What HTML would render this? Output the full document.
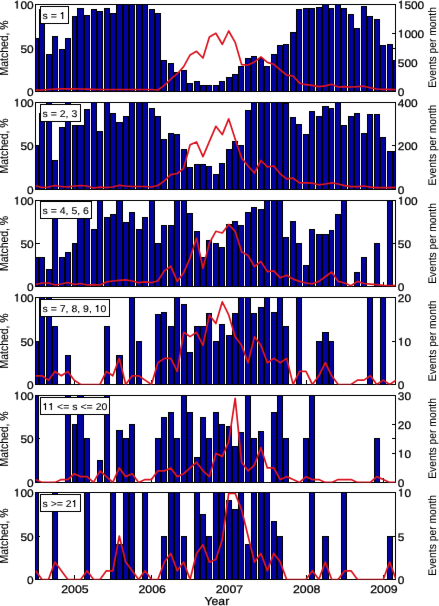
<!DOCTYPE html>
<html><head><meta charset="utf-8"><style>
html,body{margin:0;padding:0;background:#fff;width:439px;height:606px;overflow:hidden}
svg{display:block}
#w{width:439px;height:606px}
text{font-family:"Liberation Sans",sans-serif;stroke:#000;stroke-width:0.25px;text-rendering:geometricPrecision}
svg{will-change:transform}
</style></head><body><div id="w">
<svg width="439" height="606" viewBox="0 0 439 606">
<rect width="439" height="606" fill="#fff"/>
<defs>
<filter id="bl" x="0" y="0" width="439" height="606" filterUnits="userSpaceOnUse" color-interpolation-filters="sRGB"><feConvolveMatrix order="3" kernelMatrix="0.0016 0.0371 0.0016 0.0371 0.8450 0.0371 0.0016 0.0371 0.0016" edgeMode="duplicate"/></filter>
<clipPath id="c0"><rect x="35" y="4" width="361" height="88"/></clipPath>
<clipPath id="c1"><rect x="35" y="102" width="361" height="88"/></clipPath>
<clipPath id="c2"><rect x="35" y="200" width="361" height="87"/></clipPath>
<clipPath id="c3"><rect x="35" y="297" width="361" height="88"/></clipPath>
<clipPath id="c4"><rect x="35" y="395" width="361" height="88"/></clipPath>
<clipPath id="c5"><rect x="35" y="492" width="361" height="88"/></clipPath>
</defs>
<g filter="url(#bl)"><rect width="439" height="606" fill="#fff"/>
<g fill="#000" shape-rendering="crispEdges"><rect x="36" y="48" width="4" height="1"/><rect x="392" y="48" width="3" height="1"/><rect x="392" y="33" width="3" height="1"/><rect x="392" y="62" width="3" height="1"/><rect x="74" y="87" width="1" height="4"/><rect x="151" y="87" width="1" height="4"/><rect x="229" y="87" width="1" height="4"/><rect x="306" y="87" width="1" height="4"/><rect x="383" y="87" width="1" height="4"/></g>
<g clip-path="url(#c0)" shape-rendering="crispEdges"><rect x="35" y="38" width="4" height="53" fill="#000"/><rect x="36" y="39" width="2" height="52" fill="#0303a0"/><rect x="39" y="9" width="6" height="82" fill="#000"/><rect x="40" y="10" width="4" height="81" fill="#0303a0"/><rect x="46" y="54" width="6" height="37" fill="#000"/><rect x="47" y="55" width="4" height="36" fill="#0303a0"/><rect x="52" y="36" width="6" height="55" fill="#000"/><rect x="53" y="37" width="4" height="54" fill="#0303a0"/><rect x="59" y="49" width="6" height="42" fill="#000"/><rect x="60" y="50" width="4" height="41" fill="#0303a0"/><rect x="65" y="38" width="6" height="53" fill="#000"/><rect x="66" y="39" width="4" height="52" fill="#0303a0"/><rect x="72" y="16" width="5" height="75" fill="#000"/><rect x="73" y="17" width="3" height="74" fill="#0303a0"/><rect x="77" y="8" width="7" height="83" fill="#000"/><rect x="78" y="9" width="5" height="82" fill="#0303a0"/><rect x="84" y="15" width="6" height="76" fill="#000"/><rect x="85" y="16" width="4" height="75" fill="#0303a0"/><rect x="91" y="9" width="6" height="82" fill="#000"/><rect x="92" y="10" width="4" height="81" fill="#0303a0"/><rect x="97" y="11" width="6" height="80" fill="#000"/><rect x="98" y="12" width="4" height="79" fill="#0303a0"/><rect x="104" y="8" width="6" height="83" fill="#000"/><rect x="105" y="9" width="4" height="82" fill="#0303a0"/><rect x="110" y="13" width="6" height="78" fill="#000"/><rect x="111" y="14" width="4" height="77" fill="#0303a0"/><rect x="116" y="4" width="7" height="87" fill="#000"/><rect x="117" y="5" width="5" height="86" fill="#0303a0"/><rect x="123" y="4" width="6" height="87" fill="#000"/><rect x="124" y="5" width="4" height="86" fill="#0303a0"/><rect x="129" y="4" width="6" height="87" fill="#000"/><rect x="130" y="5" width="4" height="86" fill="#0303a0"/><rect x="136" y="4" width="6" height="87" fill="#000"/><rect x="137" y="5" width="4" height="86" fill="#0303a0"/><rect x="142" y="4" width="6" height="87" fill="#000"/><rect x="143" y="5" width="4" height="86" fill="#0303a0"/><rect x="149" y="9" width="6" height="82" fill="#000"/><rect x="150" y="10" width="4" height="81" fill="#0303a0"/><rect x="155" y="13" width="6" height="78" fill="#000"/><rect x="156" y="14" width="4" height="77" fill="#0303a0"/><rect x="161" y="60" width="6" height="31" fill="#000"/><rect x="162" y="61" width="4" height="30" fill="#0303a0"/><rect x="168" y="63" width="6" height="28" fill="#000"/><rect x="169" y="64" width="4" height="27" fill="#0303a0"/><rect x="174" y="72" width="6" height="19" fill="#000"/><rect x="175" y="73" width="4" height="18" fill="#0303a0"/><rect x="181" y="70" width="6" height="21" fill="#000"/><rect x="182" y="71" width="4" height="20" fill="#0303a0"/><rect x="187" y="83" width="6" height="8" fill="#000"/><rect x="188" y="84" width="4" height="7" fill="#0303a0"/><rect x="194" y="81" width="6" height="10" fill="#000"/><rect x="195" y="82" width="4" height="9" fill="#0303a0"/><rect x="200" y="85" width="6" height="6" fill="#000"/><rect x="201" y="86" width="4" height="5" fill="#0303a0"/><rect x="206" y="85" width="6" height="6" fill="#000"/><rect x="207" y="86" width="4" height="5" fill="#0303a0"/><rect x="213" y="85" width="6" height="6" fill="#000"/><rect x="214" y="86" width="4" height="5" fill="#0303a0"/><rect x="219" y="81" width="6" height="10" fill="#000"/><rect x="220" y="82" width="4" height="9" fill="#0303a0"/><rect x="226" y="77" width="6" height="14" fill="#000"/><rect x="227" y="78" width="4" height="13" fill="#0303a0"/><rect x="232" y="74" width="6" height="17" fill="#000"/><rect x="233" y="75" width="4" height="16" fill="#0303a0"/><rect x="238" y="66" width="6" height="25" fill="#000"/><rect x="239" y="67" width="4" height="24" fill="#0303a0"/><rect x="245" y="58" width="6" height="33" fill="#000"/><rect x="246" y="59" width="4" height="32" fill="#0303a0"/><rect x="251" y="56" width="6" height="35" fill="#000"/><rect x="252" y="57" width="4" height="34" fill="#0303a0"/><rect x="258" y="58" width="6" height="33" fill="#000"/><rect x="259" y="59" width="4" height="32" fill="#0303a0"/><rect x="264" y="66" width="6" height="25" fill="#000"/><rect x="265" y="67" width="4" height="24" fill="#0303a0"/><rect x="271" y="54" width="6" height="37" fill="#000"/><rect x="272" y="55" width="4" height="36" fill="#0303a0"/><rect x="277" y="45" width="6" height="46" fill="#000"/><rect x="278" y="46" width="4" height="45" fill="#0303a0"/><rect x="283" y="44" width="6" height="47" fill="#000"/><rect x="284" y="45" width="4" height="46" fill="#0303a0"/><rect x="290" y="32" width="6" height="59" fill="#000"/><rect x="291" y="33" width="4" height="58" fill="#0303a0"/><rect x="296" y="9" width="6" height="82" fill="#000"/><rect x="297" y="10" width="4" height="81" fill="#0303a0"/><rect x="303" y="8" width="6" height="83" fill="#000"/><rect x="304" y="9" width="4" height="82" fill="#0303a0"/><rect x="309" y="8" width="6" height="83" fill="#000"/><rect x="310" y="9" width="4" height="82" fill="#0303a0"/><rect x="316" y="7" width="6" height="84" fill="#000"/><rect x="317" y="8" width="4" height="83" fill="#0303a0"/><rect x="322" y="4" width="7" height="87" fill="#000"/><rect x="323" y="5" width="5" height="86" fill="#0303a0"/><rect x="329" y="8" width="5" height="83" fill="#000"/><rect x="330" y="9" width="3" height="82" fill="#0303a0"/><rect x="335" y="4" width="6" height="87" fill="#000"/><rect x="336" y="5" width="4" height="86" fill="#0303a0"/><rect x="341" y="8" width="6" height="83" fill="#000"/><rect x="342" y="9" width="4" height="82" fill="#0303a0"/><rect x="348" y="14" width="6" height="77" fill="#000"/><rect x="349" y="15" width="4" height="76" fill="#0303a0"/><rect x="354" y="28" width="6" height="63" fill="#000"/><rect x="355" y="29" width="4" height="62" fill="#0303a0"/><rect x="361" y="6" width="6" height="85" fill="#000"/><rect x="362" y="7" width="4" height="84" fill="#0303a0"/><rect x="367" y="16" width="6" height="75" fill="#000"/><rect x="368" y="17" width="4" height="74" fill="#0303a0"/><rect x="374" y="19" width="6" height="72" fill="#000"/><rect x="375" y="20" width="4" height="71" fill="#0303a0"/><rect x="380" y="45" width="6" height="46" fill="#000"/><rect x="381" y="46" width="4" height="45" fill="#0303a0"/><rect x="387" y="44" width="6" height="47" fill="#000"/><rect x="388" y="45" width="4" height="46" fill="#0303a0"/><rect x="393" y="60" width="3" height="31" fill="#000"/><rect x="394" y="61" width="1" height="30" fill="#0303a0"/></g>
<g fill="#000" shape-rendering="crispEdges"><rect x="35" y="4" width="361" height="1"/><rect x="35" y="91" width="361" height="1"/><rect x="35" y="4" width="1" height="88"/><rect x="395" y="4" width="1" height="88"/></g>
<g clip-path="url(#c0)"><polyline points="35.60,90.20 42.04,90.00 48.48,89.50 54.91,89.00 61.35,88.80 67.79,88.80 74.22,88.90 80.66,89.00 87.10,89.20 93.54,89.30 99.97,89.50 106.41,89.50 112.85,89.50 119.29,89.50 125.72,89.50 132.16,89.50 138.60,89.50 145.04,89.50 151.47,89.50 157.91,90.00 164.35,85.40 170.79,79.20 177.22,73.70 183.66,66.60 190.10,54.90 196.54,51.30 202.97,58.00 209.41,37.10 215.85,33.30 222.29,44.30 228.72,31.00 235.16,42.30 241.60,64.60 248.04,65.10 254.47,61.90 260.91,56.90 267.35,62.40 273.79,64.30 280.23,69.80 286.66,75.20 293.10,76.00 299.54,83.10 305.98,84.70 312.41,85.40 318.85,86.70 325.29,85.90 331.73,84.30 338.16,87.00 344.60,86.70 351.04,87.00 357.48,86.70 363.91,86.20 370.35,87.80 376.79,89.00 383.23,89.40 389.66,89.40 396.10,89.70" fill="none" stroke="#dc1622" stroke-width="1.7" stroke-linejoin="round"/></g>
<g fill="#000" fill-opacity="0.45" shape-rendering="crispEdges"><rect x="35" y="4" width="361" height="1"/><rect x="35" y="91" width="361" height="1"/><rect x="35" y="4" width="1" height="88"/><rect x="395" y="4" width="1" height="88"/></g>
<rect x="40.5" y="6.5" width="28" height="17" fill="#fff" stroke="#000" stroke-width="1"/>
<text transform="translate(42.500,19.000) scale(1.0,0.93)" font-size="10.5" style="stroke-width:0.12px">s = &#x2007;</text><path transform="translate(59.720,19.000) scale(0.01050,-0.00977)" d="M 332 0 L 332 709 L 264 709 Q 232 610 100 588 L 100 522 L 238 522 L 238 0 Z" stroke="#000" stroke-width="0.12" vector-effect="non-scaling-stroke"/>
<text transform="translate(13.784,8.500) scale(1.08,1.0)" font-size="11" style="stroke-width:0.25px">&#x2007;00</text><path transform="translate(13.784,8.500) scale(0.01188,-0.01100)" d="M 332 0 L 332 709 L 264 709 Q 232 610 100 588 L 100 522 L 238 522 L 238 0 Z" stroke="#000" stroke-width="0.25" vector-effect="non-scaling-stroke"/>
<text transform="translate(20.389,52.500) scale(1.08,1.0)" font-size="11" style="stroke-width:0.25px">50</text>
<text transform="translate(26.995,95.500) scale(1.08,1.0)" font-size="11" style="stroke-width:0.25px">0</text>
<text transform="translate(397.800,8.500) scale(1.08,1.0)" font-size="11" style="stroke-width:0.25px">&#x2007;500</text><path transform="translate(397.800,8.500) scale(0.01188,-0.01100)" d="M 332 0 L 332 709 L 264 709 Q 232 610 100 588 L 100 522 L 238 522 L 238 0 Z" stroke="#000" stroke-width="0.25" vector-effect="non-scaling-stroke"/>
<text transform="translate(397.800,37.500) scale(1.08,1.0)" font-size="11" style="stroke-width:0.25px">&#x2007;000</text><path transform="translate(397.800,37.500) scale(0.01188,-0.01100)" d="M 332 0 L 332 709 L 264 709 Q 232 610 100 588 L 100 522 L 238 522 L 238 0 Z" stroke="#000" stroke-width="0.25" vector-effect="non-scaling-stroke"/>
<text transform="translate(397.800,66.500) scale(1.08,1.0)" font-size="11" style="stroke-width:0.25px">500</text>
<text transform="translate(397.800,95.500) scale(1.08,1.0)" font-size="11" style="stroke-width:0.25px">0</text>
<text transform="translate(7.9,47.9) rotate(-90) scale(1,1.15)" font-size="10.45" text-anchor="middle" style="stroke-width:0.1px">Matched, %</text>
<text transform="translate(435.9,47.5) rotate(-90) scale(1,1.07)" font-size="10.3" text-anchor="middle" style="stroke-width:0.1px">Events per month</text>
<g fill="#000" shape-rendering="crispEdges"><rect x="36" y="145" width="4" height="1"/><rect x="392" y="145" width="3" height="1"/><rect x="392" y="145" width="3" height="1"/><rect x="74" y="185" width="1" height="4"/><rect x="151" y="185" width="1" height="4"/><rect x="229" y="185" width="1" height="4"/><rect x="306" y="185" width="1" height="4"/><rect x="383" y="185" width="1" height="4"/></g>
<g clip-path="url(#c1)" shape-rendering="crispEdges"><rect x="35" y="145" width="4" height="44" fill="#000"/><rect x="36" y="146" width="2" height="43" fill="#0303a0"/><rect x="39" y="113" width="6" height="76" fill="#000"/><rect x="40" y="114" width="4" height="75" fill="#0303a0"/><rect x="46" y="102" width="6" height="87" fill="#000"/><rect x="47" y="103" width="4" height="86" fill="#0303a0"/><rect x="52" y="160" width="6" height="29" fill="#000"/><rect x="53" y="161" width="4" height="28" fill="#0303a0"/><rect x="59" y="127" width="6" height="62" fill="#000"/><rect x="60" y="128" width="4" height="61" fill="#0303a0"/><rect x="65" y="102" width="6" height="87" fill="#000"/><rect x="66" y="103" width="4" height="86" fill="#0303a0"/><rect x="72" y="125" width="5" height="64" fill="#000"/><rect x="73" y="126" width="3" height="63" fill="#0303a0"/><rect x="77" y="125" width="7" height="64" fill="#000"/><rect x="78" y="126" width="5" height="63" fill="#0303a0"/><rect x="84" y="109" width="6" height="80" fill="#000"/><rect x="85" y="110" width="4" height="79" fill="#0303a0"/><rect x="91" y="102" width="6" height="87" fill="#000"/><rect x="92" y="103" width="4" height="86" fill="#0303a0"/><rect x="97" y="131" width="6" height="58" fill="#000"/><rect x="98" y="132" width="4" height="57" fill="#0303a0"/><rect x="104" y="102" width="6" height="87" fill="#000"/><rect x="105" y="103" width="4" height="86" fill="#0303a0"/><rect x="110" y="113" width="6" height="76" fill="#000"/><rect x="111" y="114" width="4" height="75" fill="#0303a0"/><rect x="116" y="122" width="7" height="67" fill="#000"/><rect x="117" y="123" width="5" height="66" fill="#0303a0"/><rect x="123" y="116" width="6" height="73" fill="#000"/><rect x="124" y="117" width="4" height="72" fill="#0303a0"/><rect x="129" y="102" width="6" height="87" fill="#000"/><rect x="130" y="103" width="4" height="86" fill="#0303a0"/><rect x="136" y="102" width="6" height="87" fill="#000"/><rect x="137" y="103" width="4" height="86" fill="#0303a0"/><rect x="142" y="102" width="6" height="87" fill="#000"/><rect x="143" y="103" width="4" height="86" fill="#0303a0"/><rect x="149" y="108" width="6" height="81" fill="#000"/><rect x="150" y="109" width="4" height="80" fill="#0303a0"/><rect x="155" y="116" width="6" height="73" fill="#000"/><rect x="156" y="117" width="4" height="72" fill="#0303a0"/><rect x="161" y="139" width="6" height="50" fill="#000"/><rect x="162" y="140" width="4" height="49" fill="#0303a0"/><rect x="168" y="133" width="6" height="56" fill="#000"/><rect x="169" y="134" width="4" height="55" fill="#0303a0"/><rect x="174" y="134" width="6" height="55" fill="#000"/><rect x="175" y="135" width="4" height="54" fill="#0303a0"/><rect x="181" y="149" width="6" height="40" fill="#000"/><rect x="182" y="150" width="4" height="39" fill="#0303a0"/><rect x="187" y="167" width="6" height="22" fill="#000"/><rect x="188" y="168" width="4" height="21" fill="#0303a0"/><rect x="194" y="164" width="6" height="25" fill="#000"/><rect x="195" y="165" width="4" height="24" fill="#0303a0"/><rect x="200" y="164" width="6" height="25" fill="#000"/><rect x="201" y="165" width="4" height="24" fill="#0303a0"/><rect x="206" y="166" width="6" height="23" fill="#000"/><rect x="207" y="167" width="4" height="22" fill="#0303a0"/><rect x="213" y="174" width="6" height="15" fill="#000"/><rect x="214" y="175" width="4" height="14" fill="#0303a0"/><rect x="219" y="163" width="6" height="26" fill="#000"/><rect x="220" y="164" width="4" height="25" fill="#0303a0"/><rect x="226" y="149" width="6" height="40" fill="#000"/><rect x="227" y="150" width="4" height="39" fill="#0303a0"/><rect x="232" y="141" width="6" height="48" fill="#000"/><rect x="233" y="142" width="4" height="47" fill="#0303a0"/><rect x="238" y="145" width="6" height="44" fill="#000"/><rect x="239" y="146" width="4" height="43" fill="#0303a0"/><rect x="245" y="110" width="6" height="79" fill="#000"/><rect x="246" y="111" width="4" height="78" fill="#0303a0"/><rect x="251" y="102" width="6" height="87" fill="#000"/><rect x="252" y="103" width="4" height="86" fill="#0303a0"/><rect x="258" y="102" width="6" height="87" fill="#000"/><rect x="259" y="103" width="4" height="86" fill="#0303a0"/><rect x="264" y="102" width="6" height="87" fill="#000"/><rect x="265" y="103" width="4" height="86" fill="#0303a0"/><rect x="271" y="102" width="6" height="87" fill="#000"/><rect x="272" y="103" width="4" height="86" fill="#0303a0"/><rect x="277" y="102" width="6" height="87" fill="#000"/><rect x="278" y="103" width="4" height="86" fill="#0303a0"/><rect x="283" y="103" width="6" height="86" fill="#000"/><rect x="284" y="104" width="4" height="85" fill="#0303a0"/><rect x="290" y="117" width="6" height="72" fill="#000"/><rect x="291" y="118" width="4" height="71" fill="#0303a0"/><rect x="296" y="124" width="6" height="65" fill="#000"/><rect x="297" y="125" width="4" height="64" fill="#0303a0"/><rect x="303" y="134" width="6" height="55" fill="#000"/><rect x="304" y="135" width="4" height="54" fill="#0303a0"/><rect x="309" y="111" width="6" height="78" fill="#000"/><rect x="310" y="112" width="4" height="77" fill="#0303a0"/><rect x="316" y="116" width="6" height="73" fill="#000"/><rect x="317" y="117" width="4" height="72" fill="#0303a0"/><rect x="322" y="106" width="7" height="83" fill="#000"/><rect x="323" y="107" width="5" height="82" fill="#0303a0"/><rect x="329" y="108" width="5" height="81" fill="#000"/><rect x="330" y="109" width="3" height="80" fill="#0303a0"/><rect x="335" y="102" width="6" height="87" fill="#000"/><rect x="336" y="103" width="4" height="86" fill="#0303a0"/><rect x="341" y="125" width="6" height="64" fill="#000"/><rect x="342" y="126" width="4" height="63" fill="#0303a0"/><rect x="348" y="116" width="6" height="73" fill="#000"/><rect x="349" y="117" width="4" height="72" fill="#0303a0"/><rect x="354" y="113" width="6" height="76" fill="#000"/><rect x="355" y="114" width="4" height="75" fill="#0303a0"/><rect x="361" y="133" width="6" height="56" fill="#000"/><rect x="362" y="134" width="4" height="55" fill="#0303a0"/><rect x="367" y="114" width="6" height="75" fill="#000"/><rect x="368" y="115" width="4" height="74" fill="#0303a0"/><rect x="374" y="114" width="6" height="75" fill="#000"/><rect x="375" y="115" width="4" height="74" fill="#0303a0"/><rect x="380" y="137" width="6" height="52" fill="#000"/><rect x="381" y="138" width="4" height="51" fill="#0303a0"/><rect x="387" y="151" width="6" height="38" fill="#000"/><rect x="388" y="152" width="4" height="37" fill="#0303a0"/><rect x="393" y="151" width="3" height="38" fill="#000"/><rect x="394" y="152" width="1" height="37" fill="#0303a0"/></g>
<g fill="#000" shape-rendering="crispEdges"><rect x="35" y="102" width="361" height="1"/><rect x="35" y="189" width="361" height="1"/><rect x="35" y="102" width="1" height="88"/><rect x="395" y="102" width="1" height="88"/></g>
<g clip-path="url(#c1)"><polyline points="35.60,185.80 42.04,187.50 48.48,187.00 54.91,185.50 61.35,186.50 67.79,187.00 74.22,186.00 80.66,185.50 87.10,186.00 93.54,188.00 99.97,187.20 106.41,187.50 112.85,187.00 119.29,185.30 125.72,186.00 132.16,186.50 138.60,186.50 145.04,186.50 151.47,187.00 157.91,185.50 164.35,180.90 170.79,174.60 177.22,173.50 183.66,168.30 190.10,144.80 196.54,142.00 202.97,156.60 209.41,141.40 215.85,126.30 222.29,134.60 228.72,118.90 235.16,139.00 241.60,158.10 248.04,166.00 254.47,173.00 260.91,160.50 267.35,166.80 273.79,166.00 280.23,173.80 286.66,178.80 293.10,178.20 299.54,182.90 305.98,182.90 312.41,183.20 318.85,184.80 325.29,184.00 331.73,182.80 338.16,184.00 344.60,185.60 351.04,186.70 357.48,186.70 363.91,186.00 370.35,187.10 376.79,187.60 383.23,187.60 389.66,187.60 396.10,187.30" fill="none" stroke="#dc1622" stroke-width="1.7" stroke-linejoin="round"/></g>
<g fill="#000" fill-opacity="0.45" shape-rendering="crispEdges"><rect x="35" y="102" width="361" height="1"/><rect x="35" y="189" width="361" height="1"/><rect x="35" y="102" width="1" height="88"/><rect x="395" y="102" width="1" height="88"/></g>
<rect x="40.5" y="104.5" width="40" height="17" fill="#fff" stroke="#000" stroke-width="1"/>
<text transform="translate(42.500,117.000) scale(1.0,0.93)" font-size="10.5" style="stroke-width:0.12px">s = 2, 3</text>
<text transform="translate(13.784,106.500) scale(1.08,1.0)" font-size="11" style="stroke-width:0.25px">&#x2007;00</text><path transform="translate(13.784,106.500) scale(0.01188,-0.01100)" d="M 332 0 L 332 709 L 264 709 Q 232 610 100 588 L 100 522 L 238 522 L 238 0 Z" stroke="#000" stroke-width="0.25" vector-effect="non-scaling-stroke"/>
<text transform="translate(20.389,149.500) scale(1.08,1.0)" font-size="11" style="stroke-width:0.25px">50</text>
<text transform="translate(26.995,193.500) scale(1.08,1.0)" font-size="11" style="stroke-width:0.25px">0</text>
<text transform="translate(397.800,106.500) scale(1.08,1.0)" font-size="11" style="stroke-width:0.25px">400</text>
<text transform="translate(397.800,149.500) scale(1.08,1.0)" font-size="11" style="stroke-width:0.25px">200</text>
<text transform="translate(397.800,193.500) scale(1.08,1.0)" font-size="11" style="stroke-width:0.25px">0</text>
<text transform="translate(7.9,145.9) rotate(-90) scale(1,1.15)" font-size="10.45" text-anchor="middle" style="stroke-width:0.1px">Matched, %</text>
<text transform="translate(435.9,145.1) rotate(-90) scale(1,1.07)" font-size="10.3" text-anchor="middle" style="stroke-width:0.1px">Events per month</text>
<g fill="#000" shape-rendering="crispEdges"><rect x="36" y="243" width="4" height="1"/><rect x="392" y="243" width="3" height="1"/><rect x="392" y="243" width="3" height="1"/><rect x="74" y="282" width="1" height="4"/><rect x="151" y="282" width="1" height="4"/><rect x="229" y="282" width="1" height="4"/><rect x="306" y="282" width="1" height="4"/><rect x="383" y="282" width="1" height="4"/></g>
<g clip-path="url(#c2)" shape-rendering="crispEdges"><rect x="35" y="257" width="4" height="29" fill="#000"/><rect x="36" y="258" width="2" height="28" fill="#0303a0"/><rect x="39" y="257" width="6" height="29" fill="#000"/><rect x="40" y="258" width="4" height="28" fill="#0303a0"/><rect x="46" y="269" width="6" height="17" fill="#000"/><rect x="47" y="270" width="4" height="16" fill="#0303a0"/><rect x="52" y="200" width="6" height="86" fill="#000"/><rect x="53" y="201" width="4" height="85" fill="#0303a0"/><rect x="59" y="257" width="6" height="29" fill="#000"/><rect x="60" y="258" width="4" height="28" fill="#0303a0"/><rect x="65" y="252" width="6" height="34" fill="#000"/><rect x="66" y="253" width="4" height="33" fill="#0303a0"/><rect x="72" y="243" width="5" height="43" fill="#000"/><rect x="73" y="244" width="3" height="42" fill="#0303a0"/><rect x="77" y="200" width="7" height="86" fill="#000"/><rect x="78" y="201" width="5" height="85" fill="#0303a0"/><rect x="84" y="200" width="6" height="86" fill="#000"/><rect x="85" y="201" width="4" height="85" fill="#0303a0"/><rect x="91" y="229" width="6" height="57" fill="#000"/><rect x="92" y="230" width="4" height="56" fill="#0303a0"/><rect x="97" y="200" width="6" height="86" fill="#000"/><rect x="98" y="201" width="4" height="85" fill="#0303a0"/><rect x="104" y="217" width="6" height="69" fill="#000"/><rect x="105" y="218" width="4" height="68" fill="#0303a0"/><rect x="110" y="214" width="6" height="72" fill="#000"/><rect x="111" y="215" width="4" height="71" fill="#0303a0"/><rect x="116" y="200" width="7" height="86" fill="#000"/><rect x="117" y="201" width="5" height="85" fill="#0303a0"/><rect x="123" y="222" width="6" height="64" fill="#000"/><rect x="124" y="223" width="4" height="63" fill="#0303a0"/><rect x="129" y="212" width="6" height="74" fill="#000"/><rect x="130" y="213" width="4" height="73" fill="#0303a0"/><rect x="136" y="229" width="6" height="57" fill="#000"/><rect x="137" y="230" width="4" height="56" fill="#0303a0"/><rect x="142" y="217" width="6" height="69" fill="#000"/><rect x="143" y="218" width="4" height="68" fill="#0303a0"/><rect x="149" y="200" width="6" height="86" fill="#000"/><rect x="150" y="201" width="4" height="85" fill="#0303a0"/><rect x="155" y="243" width="6" height="43" fill="#000"/><rect x="156" y="244" width="4" height="42" fill="#0303a0"/><rect x="161" y="225" width="6" height="61" fill="#000"/><rect x="162" y="226" width="4" height="60" fill="#0303a0"/><rect x="168" y="225" width="6" height="61" fill="#000"/><rect x="169" y="226" width="4" height="60" fill="#0303a0"/><rect x="174" y="200" width="6" height="86" fill="#000"/><rect x="175" y="201" width="4" height="85" fill="#0303a0"/><rect x="181" y="200" width="6" height="86" fill="#000"/><rect x="182" y="201" width="4" height="85" fill="#0303a0"/><rect x="187" y="213" width="6" height="73" fill="#000"/><rect x="188" y="214" width="4" height="72" fill="#0303a0"/><rect x="194" y="231" width="6" height="55" fill="#000"/><rect x="195" y="232" width="4" height="54" fill="#0303a0"/><rect x="200" y="257" width="6" height="29" fill="#000"/><rect x="201" y="258" width="4" height="28" fill="#0303a0"/><rect x="206" y="240" width="6" height="46" fill="#000"/><rect x="207" y="241" width="4" height="45" fill="#0303a0"/><rect x="213" y="243" width="6" height="43" fill="#000"/><rect x="214" y="244" width="4" height="42" fill="#0303a0"/><rect x="219" y="247" width="6" height="39" fill="#000"/><rect x="220" y="248" width="4" height="38" fill="#0303a0"/><rect x="226" y="224" width="6" height="62" fill="#000"/><rect x="227" y="225" width="4" height="61" fill="#0303a0"/><rect x="232" y="221" width="6" height="65" fill="#000"/><rect x="233" y="222" width="4" height="64" fill="#0303a0"/><rect x="238" y="225" width="6" height="61" fill="#000"/><rect x="239" y="226" width="4" height="60" fill="#0303a0"/><rect x="245" y="212" width="6" height="74" fill="#000"/><rect x="246" y="213" width="4" height="73" fill="#0303a0"/><rect x="251" y="207" width="6" height="79" fill="#000"/><rect x="252" y="208" width="4" height="78" fill="#0303a0"/><rect x="258" y="209" width="6" height="77" fill="#000"/><rect x="259" y="210" width="4" height="76" fill="#0303a0"/><rect x="264" y="200" width="6" height="86" fill="#000"/><rect x="265" y="201" width="4" height="85" fill="#0303a0"/><rect x="271" y="200" width="6" height="86" fill="#000"/><rect x="272" y="201" width="4" height="85" fill="#0303a0"/><rect x="277" y="200" width="6" height="86" fill="#000"/><rect x="278" y="201" width="4" height="85" fill="#0303a0"/><rect x="283" y="237" width="6" height="49" fill="#000"/><rect x="284" y="238" width="4" height="48" fill="#0303a0"/><rect x="290" y="221" width="6" height="65" fill="#000"/><rect x="291" y="222" width="4" height="64" fill="#0303a0"/><rect x="296" y="243" width="6" height="43" fill="#000"/><rect x="297" y="244" width="4" height="42" fill="#0303a0"/><rect x="303" y="265" width="6" height="21" fill="#000"/><rect x="304" y="266" width="4" height="20" fill="#0303a0"/><rect x="309" y="229" width="6" height="57" fill="#000"/><rect x="310" y="230" width="4" height="56" fill="#0303a0"/><rect x="316" y="234" width="6" height="52" fill="#000"/><rect x="317" y="235" width="4" height="51" fill="#0303a0"/><rect x="322" y="234" width="7" height="52" fill="#000"/><rect x="323" y="235" width="5" height="51" fill="#0303a0"/><rect x="329" y="230" width="5" height="56" fill="#000"/><rect x="330" y="231" width="3" height="55" fill="#0303a0"/><rect x="335" y="214" width="6" height="72" fill="#000"/><rect x="336" y="215" width="4" height="71" fill="#0303a0"/><rect x="341" y="200" width="6" height="86" fill="#000"/><rect x="342" y="201" width="4" height="85" fill="#0303a0"/><rect x="354" y="272" width="6" height="14" fill="#000"/><rect x="355" y="273" width="4" height="13" fill="#0303a0"/><rect x="361" y="257" width="6" height="29" fill="#000"/><rect x="362" y="258" width="4" height="28" fill="#0303a0"/><rect x="374" y="243" width="6" height="43" fill="#000"/><rect x="375" y="244" width="4" height="42" fill="#0303a0"/><rect x="387" y="200" width="6" height="86" fill="#000"/><rect x="388" y="201" width="4" height="85" fill="#0303a0"/></g>
<g fill="#000" shape-rendering="crispEdges"><rect x="35" y="200" width="361" height="1"/><rect x="35" y="286" width="361" height="1"/><rect x="35" y="200" width="1" height="87"/><rect x="395" y="200" width="1" height="87"/></g>
<g clip-path="url(#c2)"><polyline points="35.60,284.50 42.04,283.00 48.48,283.00 54.91,285.00 61.35,284.00 67.79,282.50 74.22,284.50 80.66,283.50 87.10,285.00 93.54,284.60 99.97,285.00 106.41,281.90 112.85,281.00 119.29,280.30 125.72,279.90 132.16,281.00 138.60,282.70 145.04,281.90 151.47,282.70 157.91,280.70 164.35,270.90 170.79,266.20 177.22,281.40 183.66,272.80 190.10,257.90 196.54,238.00 202.97,268.40 209.41,243.00 215.85,231.30 222.29,233.00 228.72,224.50 235.16,231.30 241.60,251.70 248.04,255.60 254.47,266.50 260.91,261.50 267.35,271.60 273.79,270.90 280.23,277.80 286.66,275.20 293.10,279.10 299.54,281.40 305.98,283.00 312.41,283.80 318.85,281.40 325.29,276.70 331.73,272.00 338.16,281.40 344.60,283.00 351.04,285.70 357.48,281.40 363.91,283.50 370.35,284.10 376.79,284.60 383.23,285.40 389.66,285.70 396.10,285.70" fill="none" stroke="#dc1622" stroke-width="1.7" stroke-linejoin="round"/></g>
<g fill="#000" fill-opacity="0.45" shape-rendering="crispEdges"><rect x="35" y="200" width="361" height="1"/><rect x="35" y="286" width="361" height="1"/><rect x="35" y="200" width="1" height="87"/><rect x="395" y="200" width="1" height="87"/></g>
<rect x="40.5" y="201.5" width="51" height="17" fill="#fff" stroke="#000" stroke-width="1"/>
<text transform="translate(42.500,214.000) scale(1.0,0.93)" font-size="10.5" style="stroke-width:0.12px">s = 4, 5, 6</text>
<text transform="translate(13.784,204.500) scale(1.08,1.0)" font-size="11" style="stroke-width:0.25px">&#x2007;00</text><path transform="translate(13.784,204.500) scale(0.01188,-0.01100)" d="M 332 0 L 332 709 L 264 709 Q 232 610 100 588 L 100 522 L 238 522 L 238 0 Z" stroke="#000" stroke-width="0.25" vector-effect="non-scaling-stroke"/>
<text transform="translate(20.389,247.500) scale(1.08,1.0)" font-size="11" style="stroke-width:0.25px">50</text>
<text transform="translate(26.995,290.500) scale(1.08,1.0)" font-size="11" style="stroke-width:0.25px">0</text>
<text transform="translate(397.800,204.500) scale(1.08,1.0)" font-size="11" style="stroke-width:0.25px">&#x2007;00</text><path transform="translate(397.800,204.500) scale(0.01188,-0.01100)" d="M 332 0 L 332 709 L 264 709 Q 232 610 100 588 L 100 522 L 238 522 L 238 0 Z" stroke="#000" stroke-width="0.25" vector-effect="non-scaling-stroke"/>
<text transform="translate(397.800,247.500) scale(1.08,1.0)" font-size="11" style="stroke-width:0.25px">50</text>
<text transform="translate(397.800,290.500) scale(1.08,1.0)" font-size="11" style="stroke-width:0.25px">0</text>
<text transform="translate(7.9,243.4) rotate(-90) scale(1,1.15)" font-size="10.45" text-anchor="middle" style="stroke-width:0.1px">Matched, %</text>
<text transform="translate(435.9,243.5) rotate(-90) scale(1,1.07)" font-size="10.3" text-anchor="middle" style="stroke-width:0.1px">Events per month</text>
<g fill="#000" shape-rendering="crispEdges"><rect x="36" y="341" width="4" height="1"/><rect x="392" y="341" width="3" height="1"/><rect x="392" y="341" width="3" height="1"/><rect x="74" y="380" width="1" height="4"/><rect x="151" y="380" width="1" height="4"/><rect x="229" y="380" width="1" height="4"/><rect x="306" y="380" width="1" height="4"/><rect x="383" y="380" width="1" height="4"/></g>
<g clip-path="url(#c3)" shape-rendering="crispEdges"><rect x="35" y="341" width="4" height="43" fill="#000"/><rect x="36" y="342" width="2" height="42" fill="#0303a0"/><rect x="39" y="297" width="6" height="87" fill="#000"/><rect x="40" y="298" width="4" height="86" fill="#0303a0"/><rect x="46" y="297" width="6" height="87" fill="#000"/><rect x="47" y="298" width="4" height="86" fill="#0303a0"/><rect x="52" y="326" width="6" height="58" fill="#000"/><rect x="53" y="327" width="4" height="57" fill="#0303a0"/><rect x="65" y="355" width="6" height="29" fill="#000"/><rect x="66" y="356" width="4" height="28" fill="#0303a0"/><rect x="104" y="326" width="6" height="58" fill="#000"/><rect x="105" y="327" width="4" height="57" fill="#0303a0"/><rect x="116" y="355" width="7" height="29" fill="#000"/><rect x="117" y="356" width="5" height="28" fill="#0303a0"/><rect x="129" y="297" width="6" height="87" fill="#000"/><rect x="130" y="298" width="4" height="86" fill="#0303a0"/><rect x="136" y="341" width="6" height="43" fill="#000"/><rect x="137" y="342" width="4" height="42" fill="#0303a0"/><rect x="155" y="314" width="6" height="70" fill="#000"/><rect x="156" y="315" width="4" height="69" fill="#0303a0"/><rect x="161" y="312" width="6" height="72" fill="#000"/><rect x="162" y="313" width="4" height="71" fill="#0303a0"/><rect x="168" y="326" width="6" height="58" fill="#000"/><rect x="169" y="327" width="4" height="57" fill="#0303a0"/><rect x="174" y="297" width="6" height="87" fill="#000"/><rect x="175" y="298" width="4" height="86" fill="#0303a0"/><rect x="181" y="304" width="6" height="80" fill="#000"/><rect x="182" y="305" width="4" height="79" fill="#0303a0"/><rect x="187" y="352" width="6" height="32" fill="#000"/><rect x="188" y="353" width="4" height="31" fill="#0303a0"/><rect x="194" y="326" width="6" height="58" fill="#000"/><rect x="195" y="327" width="4" height="57" fill="#0303a0"/><rect x="200" y="326" width="6" height="58" fill="#000"/><rect x="201" y="327" width="4" height="57" fill="#0303a0"/><rect x="206" y="313" width="6" height="71" fill="#000"/><rect x="207" y="314" width="4" height="70" fill="#0303a0"/><rect x="213" y="341" width="6" height="43" fill="#000"/><rect x="214" y="342" width="4" height="42" fill="#0303a0"/><rect x="219" y="324" width="6" height="60" fill="#000"/><rect x="220" y="325" width="4" height="59" fill="#0303a0"/><rect x="226" y="335" width="6" height="49" fill="#000"/><rect x="227" y="336" width="4" height="48" fill="#0303a0"/><rect x="232" y="313" width="6" height="71" fill="#000"/><rect x="233" y="314" width="4" height="70" fill="#0303a0"/><rect x="238" y="297" width="6" height="87" fill="#000"/><rect x="239" y="298" width="4" height="86" fill="#0303a0"/><rect x="245" y="297" width="6" height="87" fill="#000"/><rect x="246" y="298" width="4" height="86" fill="#0303a0"/><rect x="251" y="313" width="6" height="71" fill="#000"/><rect x="252" y="314" width="4" height="70" fill="#0303a0"/><rect x="258" y="307" width="6" height="77" fill="#000"/><rect x="259" y="308" width="4" height="76" fill="#0303a0"/><rect x="264" y="297" width="6" height="87" fill="#000"/><rect x="265" y="298" width="4" height="86" fill="#0303a0"/><rect x="271" y="312" width="6" height="72" fill="#000"/><rect x="272" y="313" width="4" height="71" fill="#0303a0"/><rect x="277" y="297" width="6" height="87" fill="#000"/><rect x="278" y="298" width="4" height="86" fill="#0303a0"/><rect x="283" y="326" width="6" height="58" fill="#000"/><rect x="284" y="327" width="4" height="57" fill="#0303a0"/><rect x="296" y="297" width="6" height="87" fill="#000"/><rect x="297" y="298" width="4" height="86" fill="#0303a0"/><rect x="316" y="341" width="6" height="43" fill="#000"/><rect x="317" y="342" width="4" height="42" fill="#0303a0"/><rect x="322" y="332" width="7" height="52" fill="#000"/><rect x="323" y="333" width="5" height="51" fill="#0303a0"/><rect x="329" y="341" width="5" height="43" fill="#000"/><rect x="330" y="342" width="3" height="42" fill="#0303a0"/><rect x="367" y="297" width="6" height="87" fill="#000"/><rect x="368" y="298" width="4" height="86" fill="#0303a0"/><rect x="380" y="297" width="6" height="87" fill="#000"/><rect x="381" y="298" width="4" height="86" fill="#0303a0"/></g>
<g fill="#000" shape-rendering="crispEdges"><rect x="35" y="297" width="361" height="1"/><rect x="35" y="384" width="361" height="1"/><rect x="35" y="297" width="1" height="88"/><rect x="395" y="297" width="1" height="88"/></g>
<g clip-path="url(#c3)"><polyline points="35.60,375.80 42.04,375.80 48.48,380.15 54.91,371.45 61.35,375.80 67.79,371.45 74.22,380.15 80.66,384.50 87.10,384.50 93.54,384.50 99.97,384.50 106.41,371.45 112.85,375.80 119.29,358.40 125.72,384.50 132.16,375.80 138.60,375.80 145.04,380.15 151.47,384.50 157.91,362.75 164.35,358.40 170.79,358.40 177.22,371.45 183.66,332.30 190.10,336.65 196.54,332.30 202.97,345.35 209.41,314.90 215.85,323.60 222.29,301.85 228.72,314.90 235.16,336.65 241.60,345.35 248.04,362.75 254.47,336.65 260.91,345.35 267.35,362.75 273.79,358.40 280.23,362.75 286.66,358.40 293.10,384.50 299.54,371.45 305.98,371.45 312.41,384.50 318.85,375.80 325.29,362.75 331.73,375.80 338.16,384.50 344.60,384.50 351.04,384.50 357.48,380.15 363.91,380.15 370.35,375.80 376.79,384.50 383.23,380.15 389.66,384.50 396.10,380.15" fill="none" stroke="#dc1622" stroke-width="1.7" stroke-linejoin="round"/></g>
<g fill="#000" fill-opacity="0.45" shape-rendering="crispEdges"><rect x="35" y="297" width="361" height="1"/><rect x="35" y="384" width="361" height="1"/><rect x="35" y="297" width="1" height="88"/><rect x="395" y="297" width="1" height="88"/></g>
<rect x="40.5" y="299.5" width="69" height="17" fill="#fff" stroke="#000" stroke-width="1"/>
<text transform="translate(42.500,312.000) scale(1.0,0.93)" font-size="10.5" style="stroke-width:0.12px">s = 7, 8, 9, &#x2007;0</text><path transform="translate(94.748,312.000) scale(0.01050,-0.00977)" d="M 332 0 L 332 709 L 264 709 Q 232 610 100 588 L 100 522 L 238 522 L 238 0 Z" stroke="#000" stroke-width="0.12" vector-effect="non-scaling-stroke"/>
<text transform="translate(13.784,301.500) scale(1.08,1.0)" font-size="11" style="stroke-width:0.25px">&#x2007;00</text><path transform="translate(13.784,301.500) scale(0.01188,-0.01100)" d="M 332 0 L 332 709 L 264 709 Q 232 610 100 588 L 100 522 L 238 522 L 238 0 Z" stroke="#000" stroke-width="0.25" vector-effect="non-scaling-stroke"/>
<text transform="translate(20.389,345.500) scale(1.08,1.0)" font-size="11" style="stroke-width:0.25px">50</text>
<text transform="translate(26.995,388.500) scale(1.08,1.0)" font-size="11" style="stroke-width:0.25px">0</text>
<text transform="translate(397.800,301.500) scale(1.08,1.0)" font-size="11" style="stroke-width:0.25px">20</text>
<text transform="translate(397.800,345.500) scale(1.08,1.0)" font-size="11" style="stroke-width:0.25px">&#x2007;0</text><path transform="translate(397.800,345.500) scale(0.01188,-0.01100)" d="M 332 0 L 332 709 L 264 709 Q 232 610 100 588 L 100 522 L 238 522 L 238 0 Z" stroke="#000" stroke-width="0.25" vector-effect="non-scaling-stroke"/>
<text transform="translate(397.800,388.500) scale(1.08,1.0)" font-size="11" style="stroke-width:0.25px">0</text>
<text transform="translate(7.9,340.9) rotate(-90) scale(1,1.15)" font-size="10.45" text-anchor="middle" style="stroke-width:0.1px">Matched, %</text>
<text transform="translate(435.9,340.8) rotate(-90) scale(1,1.07)" font-size="10.3" text-anchor="middle" style="stroke-width:0.1px">Events per month</text>
<g fill="#000" shape-rendering="crispEdges"><rect x="36" y="438" width="4" height="1"/><rect x="392" y="438" width="3" height="1"/><rect x="392" y="424" width="3" height="1"/><rect x="392" y="453" width="3" height="1"/><rect x="74" y="478" width="1" height="4"/><rect x="151" y="478" width="1" height="4"/><rect x="229" y="478" width="1" height="4"/><rect x="306" y="478" width="1" height="4"/><rect x="383" y="478" width="1" height="4"/></g>
<g clip-path="url(#c4)" shape-rendering="crispEdges"><rect x="35" y="395" width="4" height="87" fill="#000"/><rect x="36" y="396" width="2" height="86" fill="#0303a0"/><rect x="65" y="395" width="6" height="87" fill="#000"/><rect x="66" y="396" width="4" height="86" fill="#0303a0"/><rect x="72" y="424" width="5" height="58" fill="#000"/><rect x="73" y="425" width="3" height="57" fill="#0303a0"/><rect x="77" y="395" width="7" height="87" fill="#000"/><rect x="78" y="396" width="5" height="86" fill="#0303a0"/><rect x="84" y="438" width="6" height="44" fill="#000"/><rect x="85" y="439" width="4" height="43" fill="#0303a0"/><rect x="97" y="460" width="6" height="22" fill="#000"/><rect x="98" y="461" width="4" height="21" fill="#0303a0"/><rect x="104" y="395" width="6" height="87" fill="#000"/><rect x="105" y="396" width="4" height="86" fill="#0303a0"/><rect x="116" y="430" width="7" height="52" fill="#000"/><rect x="117" y="431" width="5" height="51" fill="#0303a0"/><rect x="123" y="438" width="6" height="44" fill="#000"/><rect x="124" y="439" width="4" height="43" fill="#0303a0"/><rect x="129" y="424" width="6" height="58" fill="#000"/><rect x="130" y="425" width="4" height="57" fill="#0303a0"/><rect x="155" y="438" width="6" height="44" fill="#000"/><rect x="156" y="439" width="4" height="43" fill="#0303a0"/><rect x="161" y="417" width="6" height="65" fill="#000"/><rect x="162" y="418" width="4" height="64" fill="#0303a0"/><rect x="168" y="412" width="6" height="70" fill="#000"/><rect x="169" y="413" width="4" height="69" fill="#0303a0"/><rect x="174" y="438" width="6" height="44" fill="#000"/><rect x="175" y="439" width="4" height="43" fill="#0303a0"/><rect x="181" y="395" width="6" height="87" fill="#000"/><rect x="182" y="396" width="4" height="86" fill="#0303a0"/><rect x="187" y="412" width="6" height="70" fill="#000"/><rect x="188" y="413" width="4" height="69" fill="#0303a0"/><rect x="194" y="457" width="6" height="25" fill="#000"/><rect x="195" y="458" width="4" height="24" fill="#0303a0"/><rect x="200" y="417" width="6" height="65" fill="#000"/><rect x="201" y="418" width="4" height="64" fill="#0303a0"/><rect x="206" y="438" width="6" height="44" fill="#000"/><rect x="207" y="439" width="4" height="43" fill="#0303a0"/><rect x="213" y="412" width="6" height="70" fill="#000"/><rect x="214" y="413" width="4" height="69" fill="#0303a0"/><rect x="219" y="424" width="6" height="58" fill="#000"/><rect x="220" y="425" width="4" height="57" fill="#0303a0"/><rect x="226" y="426" width="6" height="56" fill="#000"/><rect x="227" y="427" width="4" height="55" fill="#0303a0"/><rect x="232" y="446" width="6" height="36" fill="#000"/><rect x="233" y="447" width="4" height="35" fill="#0303a0"/><rect x="238" y="432" width="6" height="50" fill="#000"/><rect x="239" y="433" width="4" height="49" fill="#0303a0"/><rect x="245" y="395" width="6" height="87" fill="#000"/><rect x="246" y="396" width="4" height="86" fill="#0303a0"/><rect x="251" y="438" width="6" height="44" fill="#000"/><rect x="252" y="439" width="4" height="43" fill="#0303a0"/><rect x="258" y="431" width="6" height="51" fill="#000"/><rect x="259" y="432" width="4" height="50" fill="#0303a0"/><rect x="271" y="412" width="6" height="70" fill="#000"/><rect x="272" y="413" width="4" height="69" fill="#0303a0"/><rect x="277" y="395" width="6" height="87" fill="#000"/><rect x="278" y="396" width="4" height="86" fill="#0303a0"/><rect x="283" y="438" width="6" height="44" fill="#000"/><rect x="284" y="439" width="4" height="43" fill="#0303a0"/><rect x="303" y="438" width="6" height="44" fill="#000"/><rect x="304" y="439" width="4" height="43" fill="#0303a0"/><rect x="309" y="395" width="6" height="87" fill="#000"/><rect x="310" y="396" width="4" height="86" fill="#0303a0"/><rect x="374" y="438" width="6" height="44" fill="#000"/><rect x="375" y="439" width="4" height="43" fill="#0303a0"/></g>
<g fill="#000" shape-rendering="crispEdges"><rect x="35" y="395" width="361" height="1"/><rect x="35" y="482" width="361" height="1"/><rect x="35" y="395" width="1" height="88"/><rect x="395" y="395" width="1" height="88"/></g>
<g clip-path="url(#c4)"><polyline points="35.60,479.55 42.04,482.45 48.48,482.45 54.91,482.45 61.35,479.55 67.79,479.55 74.22,473.75 80.66,476.65 87.10,476.65 93.54,482.45 99.97,470.85 106.41,476.65 112.85,482.45 119.29,467.95 125.72,476.65 132.16,473.75 138.60,482.45 145.04,479.55 151.47,479.55 157.91,470.85 164.35,470.85 170.79,467.95 177.22,476.65 183.66,473.75 190.10,467.95 196.54,462.15 202.97,470.85 209.41,476.65 215.85,453.45 222.29,456.35 228.72,441.85 235.16,398.35 241.60,462.15 248.04,470.85 254.47,465.05 260.91,447.65 267.35,467.95 273.79,467.95 280.23,479.55 286.66,476.65 293.10,479.55 299.54,482.45 305.98,476.65 312.41,479.55 318.85,479.55 325.29,482.45 331.73,482.45 338.16,479.55 344.60,479.55 351.04,479.55 357.48,482.45 363.91,482.45 370.35,482.45 376.79,476.65 383.23,479.55 389.66,482.45 396.10,482.45" fill="none" stroke="#dc1622" stroke-width="1.7" stroke-linejoin="round"/></g>
<g fill="#000" fill-opacity="0.45" shape-rendering="crispEdges"><rect x="35" y="395" width="361" height="1"/><rect x="35" y="482" width="361" height="1"/><rect x="35" y="395" width="1" height="88"/><rect x="395" y="395" width="1" height="88"/></g>
<rect x="40.5" y="397.5" width="69" height="17" fill="#fff" stroke="#000" stroke-width="1"/>
<text transform="translate(42.500,410.000) scale(1.0,0.93)" font-size="10.5" style="stroke-width:0.12px">&#x2007;&#x2007; &lt;= s &lt;= 20</text><path transform="translate(42.500,410.000) scale(0.01050,-0.00977)" d="M 332 0 L 332 709 L 264 709 Q 232 610 100 588 L 100 522 L 238 522 L 238 0 Z" stroke="#000" stroke-width="0.12" vector-effect="non-scaling-stroke"/><path transform="translate(48.338,410.000) scale(0.01050,-0.00977)" d="M 332 0 L 332 709 L 264 709 Q 232 610 100 588 L 100 522 L 238 522 L 238 0 Z" stroke="#000" stroke-width="0.12" vector-effect="non-scaling-stroke"/>
<text transform="translate(13.784,399.500) scale(1.08,1.0)" font-size="11" style="stroke-width:0.25px">&#x2007;00</text><path transform="translate(13.784,399.500) scale(0.01188,-0.01100)" d="M 332 0 L 332 709 L 264 709 Q 232 610 100 588 L 100 522 L 238 522 L 238 0 Z" stroke="#000" stroke-width="0.25" vector-effect="non-scaling-stroke"/>
<text transform="translate(20.389,442.500) scale(1.08,1.0)" font-size="11" style="stroke-width:0.25px">50</text>
<text transform="translate(26.995,486.500) scale(1.08,1.0)" font-size="11" style="stroke-width:0.25px">0</text>
<text transform="translate(397.800,399.500) scale(1.08,1.0)" font-size="11" style="stroke-width:0.25px">30</text>
<text transform="translate(397.800,428.500) scale(1.08,1.0)" font-size="11" style="stroke-width:0.25px">20</text>
<text transform="translate(397.800,457.500) scale(1.08,1.0)" font-size="11" style="stroke-width:0.25px">&#x2007;0</text><path transform="translate(397.800,457.500) scale(0.01188,-0.01100)" d="M 332 0 L 332 709 L 264 709 Q 232 610 100 588 L 100 522 L 238 522 L 238 0 Z" stroke="#000" stroke-width="0.25" vector-effect="non-scaling-stroke"/>
<text transform="translate(397.800,486.500) scale(1.08,1.0)" font-size="11" style="stroke-width:0.25px">0</text>
<text transform="translate(7.9,438.9) rotate(-90) scale(1,1.15)" font-size="10.45" text-anchor="middle" style="stroke-width:0.1px">Matched, %</text>
<text transform="translate(435.9,438.4) rotate(-90) scale(1,1.07)" font-size="10.3" text-anchor="middle" style="stroke-width:0.1px">Events per month</text>
<g fill="#000" shape-rendering="crispEdges"><rect x="36" y="536" width="4" height="1"/><rect x="392" y="536" width="3" height="1"/><rect x="392" y="536" width="3" height="1"/><rect x="74" y="575" width="1" height="4"/><rect x="151" y="575" width="1" height="4"/><rect x="229" y="575" width="1" height="4"/><rect x="306" y="575" width="1" height="4"/><rect x="383" y="575" width="1" height="4"/></g>
<g clip-path="url(#c5)" shape-rendering="crispEdges"><rect x="35" y="492" width="4" height="87" fill="#000"/><rect x="36" y="493" width="2" height="86" fill="#0303a0"/><rect x="52" y="492" width="6" height="87" fill="#000"/><rect x="53" y="493" width="4" height="86" fill="#0303a0"/><rect x="84" y="492" width="6" height="87" fill="#000"/><rect x="85" y="493" width="4" height="86" fill="#0303a0"/><rect x="110" y="492" width="6" height="87" fill="#000"/><rect x="111" y="493" width="4" height="86" fill="#0303a0"/><rect x="116" y="544" width="7" height="35" fill="#000"/><rect x="117" y="545" width="5" height="34" fill="#0303a0"/><rect x="123" y="492" width="6" height="87" fill="#000"/><rect x="124" y="493" width="4" height="86" fill="#0303a0"/><rect x="129" y="492" width="6" height="87" fill="#000"/><rect x="130" y="493" width="4" height="86" fill="#0303a0"/><rect x="142" y="492" width="6" height="87" fill="#000"/><rect x="143" y="493" width="4" height="86" fill="#0303a0"/><rect x="161" y="536" width="6" height="43" fill="#000"/><rect x="162" y="537" width="4" height="42" fill="#0303a0"/><rect x="168" y="492" width="6" height="87" fill="#000"/><rect x="169" y="493" width="4" height="86" fill="#0303a0"/><rect x="174" y="492" width="6" height="87" fill="#000"/><rect x="175" y="493" width="4" height="86" fill="#0303a0"/><rect x="181" y="536" width="6" height="43" fill="#000"/><rect x="182" y="537" width="4" height="42" fill="#0303a0"/><rect x="194" y="492" width="6" height="87" fill="#000"/><rect x="195" y="493" width="4" height="86" fill="#0303a0"/><rect x="200" y="514" width="6" height="65" fill="#000"/><rect x="201" y="515" width="4" height="64" fill="#0303a0"/><rect x="206" y="536" width="6" height="43" fill="#000"/><rect x="207" y="537" width="4" height="42" fill="#0303a0"/><rect x="213" y="492" width="6" height="87" fill="#000"/><rect x="214" y="493" width="4" height="86" fill="#0303a0"/><rect x="219" y="492" width="6" height="87" fill="#000"/><rect x="220" y="493" width="4" height="86" fill="#0303a0"/><rect x="226" y="500" width="6" height="79" fill="#000"/><rect x="227" y="501" width="4" height="78" fill="#0303a0"/><rect x="232" y="509" width="6" height="70" fill="#000"/><rect x="233" y="510" width="4" height="69" fill="#0303a0"/><rect x="238" y="492" width="6" height="87" fill="#000"/><rect x="239" y="493" width="4" height="86" fill="#0303a0"/><rect x="245" y="544" width="6" height="35" fill="#000"/><rect x="246" y="545" width="4" height="34" fill="#0303a0"/><rect x="251" y="492" width="6" height="87" fill="#000"/><rect x="252" y="493" width="4" height="86" fill="#0303a0"/><rect x="258" y="492" width="6" height="87" fill="#000"/><rect x="259" y="493" width="4" height="86" fill="#0303a0"/><rect x="264" y="492" width="6" height="87" fill="#000"/><rect x="265" y="493" width="4" height="86" fill="#0303a0"/><rect x="271" y="521" width="6" height="58" fill="#000"/><rect x="272" y="522" width="4" height="57" fill="#0303a0"/><rect x="277" y="536" width="6" height="43" fill="#000"/><rect x="278" y="537" width="4" height="42" fill="#0303a0"/><rect x="309" y="492" width="6" height="87" fill="#000"/><rect x="310" y="493" width="4" height="86" fill="#0303a0"/><rect x="322" y="536" width="7" height="43" fill="#000"/><rect x="323" y="537" width="5" height="42" fill="#0303a0"/><rect x="341" y="492" width="6" height="87" fill="#000"/><rect x="342" y="493" width="4" height="86" fill="#0303a0"/><rect x="387" y="536" width="6" height="43" fill="#000"/><rect x="388" y="537" width="4" height="42" fill="#0303a0"/></g>
<g fill="#000" shape-rendering="crispEdges"><rect x="35" y="492" width="361" height="1"/><rect x="35" y="579" width="361" height="1"/><rect x="35" y="492" width="1" height="88"/><rect x="395" y="492" width="1" height="88"/></g>
<g clip-path="url(#c5)"><polyline points="35.60,570.80 42.04,579.50 48.48,579.50 54.91,562.10 61.35,570.80 67.79,579.50 74.22,579.50 80.66,579.50 87.10,570.80 93.54,579.50 99.97,579.50 106.41,570.80 112.85,570.80 119.29,536.00 125.72,562.10 132.16,570.80 138.60,579.50 145.04,570.80 151.47,579.50 157.91,579.50 164.35,562.10 170.79,553.40 177.22,570.80 183.66,562.10 190.10,579.50 196.54,553.40 202.97,544.70 209.41,562.10 215.85,559.49 222.29,539.48 228.72,493.37 235.16,493.37 241.60,509.90 248.04,536.00 254.47,562.10 260.91,553.40 267.35,570.80 273.79,553.40 280.23,562.10 286.66,579.50 293.10,579.50 299.54,579.50 305.98,579.50 312.41,570.80 318.85,579.50 325.29,562.10 331.73,579.50 338.16,579.50 344.60,570.80 351.04,570.80 357.48,579.50 363.91,579.50 370.35,579.50 376.79,579.50 383.23,579.50 389.66,562.10 396.10,579.50" fill="none" stroke="#dc1622" stroke-width="1.7" stroke-linejoin="round"/></g>
<g fill="#000" fill-opacity="0.45" shape-rendering="crispEdges"><rect x="35" y="492" width="361" height="1"/><rect x="35" y="579" width="361" height="1"/><rect x="35" y="492" width="1" height="88"/><rect x="395" y="492" width="1" height="88"/></g>
<rect x="40.5" y="494.5" width="40" height="17" fill="#fff" stroke="#000" stroke-width="1"/>
<text transform="translate(42.500,507.000) scale(1.0,0.93)" font-size="10.5" style="stroke-width:0.12px">s &gt;= 2&#x2007;</text><path transform="translate(71.690,507.000) scale(0.01050,-0.00977)" d="M 332 0 L 332 709 L 264 709 Q 232 610 100 588 L 100 522 L 238 522 L 238 0 Z" stroke="#000" stroke-width="0.12" vector-effect="non-scaling-stroke"/>
<text transform="translate(13.784,496.500) scale(1.08,1.0)" font-size="11" style="stroke-width:0.25px">&#x2007;00</text><path transform="translate(13.784,496.500) scale(0.01188,-0.01100)" d="M 332 0 L 332 709 L 264 709 Q 232 610 100 588 L 100 522 L 238 522 L 238 0 Z" stroke="#000" stroke-width="0.25" vector-effect="non-scaling-stroke"/>
<text transform="translate(20.389,540.500) scale(1.08,1.0)" font-size="11" style="stroke-width:0.25px">50</text>
<text transform="translate(26.995,583.500) scale(1.08,1.0)" font-size="11" style="stroke-width:0.25px">0</text>
<text transform="translate(397.800,496.500) scale(1.08,1.0)" font-size="11" style="stroke-width:0.25px">&#x2007;0</text><path transform="translate(397.800,496.500) scale(0.01188,-0.01100)" d="M 332 0 L 332 709 L 264 709 Q 232 610 100 588 L 100 522 L 238 522 L 238 0 Z" stroke="#000" stroke-width="0.25" vector-effect="non-scaling-stroke"/>
<text transform="translate(397.800,540.500) scale(1.08,1.0)" font-size="11" style="stroke-width:0.25px">5</text>
<text transform="translate(397.800,583.500) scale(1.08,1.0)" font-size="11" style="stroke-width:0.25px">0</text>
<text transform="translate(7.9,535.9) rotate(-90) scale(1,1.15)" font-size="10.45" text-anchor="middle" style="stroke-width:0.1px">Matched, %</text>
<text transform="translate(435.9,535.3) rotate(-90) scale(1,1.07)" font-size="10.3" text-anchor="middle" style="stroke-width:0.1px">Events per month</text>
<text transform="translate(61.225,593.000) scale(1.12,1.0)" font-size="11" style="stroke-width:0.25px">2005</text>
<text transform="translate(138.475,593.000) scale(1.12,1.0)" font-size="11" style="stroke-width:0.25px">2006</text>
<text transform="translate(215.725,593.000) scale(1.12,1.0)" font-size="11" style="stroke-width:0.25px">2007</text>
<text transform="translate(292.975,593.000) scale(1.12,1.0)" font-size="11" style="stroke-width:0.25px">2008</text>
<text transform="translate(370.225,593.000) scale(1.12,1.0)" font-size="11" style="stroke-width:0.25px">2009</text>
<text transform="translate(216.9,605.2) scale(1.06,1)" font-size="11.5" text-anchor="middle">Year</text>
</g></svg>
</div></body></html>
